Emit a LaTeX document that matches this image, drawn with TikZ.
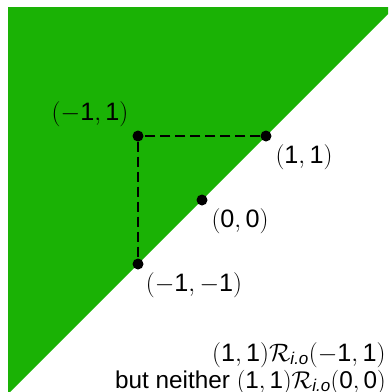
\RequirePackage{fix-cm}
\documentclass[tikz,border=0pt]{standalone}
\usepackage{fontspec}
\setmainfont{Liberation Sans}
\definecolor{zonegreen}{RGB}{26,178,5}
\newcommand{\Rio}{$\mathcal{R}_{\mbox{\fontsize{17}{17}\selectfont\itshape i.o}}$}
\newcommand{\pr}[2]{$($#1$,\,$#2$)$}
\newcommand{\mn}{$-$}
\tikzset{
  dot/.style={circle,fill=black,draw=none,inner sep=0pt,minimum size=11pt},
  lbl/.style={inner sep=0pt,font=\fontsize{25.2}{28}\selectfont},
  guide/.style={line width=2.4pt,dash pattern=on 10pt off 5pt},
}
\begin{document}
\begin{tikzpicture}[x=1pt,y=-1pt]
\useasboundingbox (0,0) rectangle (390,392);
\begin{scope}
\clip (0,0) rectangle (390,392);
\fill[zonegreen] (8,7) -- (388,7) -- (388,14) -- (8,394) -- cycle;
\node[dot] (a) at (138,136) {};
\node[dot] (b) at (266,136) {};
\node[dot] (o) at (202,200) {};
\node[dot] (c) at (138,264) {};
\draw[guide] (b) -- (a) -- (c);
\node[lbl] (la) at (90,114) {\pr{\mn1}{1}};
\node[lbl] (lb) at (304,157) {\pr{1}{1}};
\node[lbl] (lo) at (240,221) {\pr{0}{0}};
\node[lbl] (lc) at (194,285) {\pr{\mn1}{\mn1}};
\node[lbl,anchor=base west] (t1) at (212,361) {\pr{1}{1}\Rio\pr{\mn1}{1}};
\node[lbl,anchor=base west,font=\fontsize{24.3}{28}\selectfont] (t2) at (115,388) {but neither \pr{1}{1}\Rio\pr{0}{0}};
\end{scope}
\end{tikzpicture}
\end{document}
